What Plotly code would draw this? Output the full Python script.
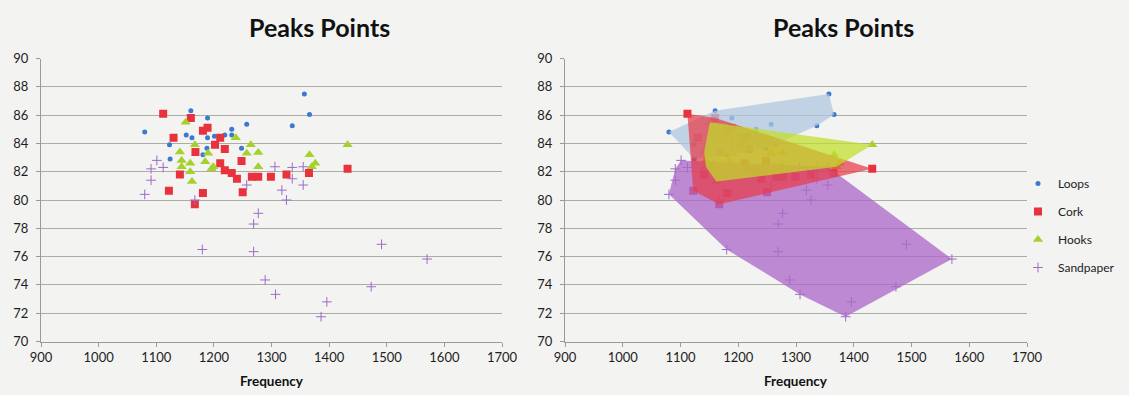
import plotly.graph_objects as go

# Peak positions (frequency, amplitude) per texture
loops_f = [1080, 1160, 1189, 1152, 1162, 1189, 1123, 1181, 1124, 1357, 1366, 1257,
           1336, 1231, 1231, 1219, 1201, 1248, 1188]
loops_a = [84.8, 86.3, 85.8, 84.6, 84.4, 84.4, 83.9, 83.2, 82.9, 87.5, 86.05, 85.35,
           85.25, 85.0, 84.6, 84.6, 84.5, 83.65, 83.65]

cork_f = [1112, 1160, 1130, 1181, 1168, 1141, 1122, 1181, 1189, 1211, 1202, 1219, 1211,
          1248, 1219, 1231, 1240, 1266, 1277, 1299, 1326, 1365, 1432, 1250, 1167]
cork_a = [86.1, 85.8, 84.4, 84.9, 83.4, 81.8, 80.65, 80.5, 85.1, 84.4, 83.9, 83.6, 82.6,
          82.75, 82.1, 81.9, 81.5, 81.65, 81.65, 81.65, 81.8, 81.9, 82.2, 80.55, 79.7]

hooks_f = [1151, 1167, 1141, 1190, 1162, 1238, 1264, 1257, 1277, 1432, 1366, 1376, 1370,
           1277, 1199, 1144, 1159, 1144, 1159, 1185, 1196]
hooks_a = [85.5, 83.9, 83.4, 83.3, 81.3, 84.4, 83.9, 83.3, 83.35, 83.9, 83.2, 82.6, 82.35,
           82.35, 82.35, 82.8, 82.6, 82.35, 82.0, 82.7, 82.2]

sand_f = [1101, 1091, 1112, 1091, 1080, 1167, 1306, 1336, 1355, 1336, 1257, 1355, 1318,
          1326, 1277, 1269, 1180, 1269, 1491, 1570, 1289, 1473, 1307, 1396, 1386]
sand_a = [82.8, 82.2, 82.3, 81.4, 80.4, 80.0, 82.35, 82.3, 82.35, 81.5, 81.06, 81.06, 80.7,
          80.0, 79.06, 78.3, 76.5, 76.35, 76.87, 75.83, 74.35, 73.87, 73.33, 72.8, 71.75]

x_ticks = [900, 1000, 1100, 1200, 1300, 1400, 1500, 1600, 1700]
y_ticks = [70, 72, 74, 76, 78, 80, 82, 84, 86, 88, 90]

series = [
    ("Loops", loops_f, loops_a,
     dict(symbol="circle", size=5, color="#3a7ad0"), "rgba(176,198,222,0.74)"),
    ("Cork", cork_f, cork_a,
     dict(symbol="square", size=8, color="#e8323e"), "rgba(232,60,72,0.72)"),
    ("Hooks", hooks_f, hooks_a,
     dict(symbol="triangle-up", size=9, color="#a6d12a"), "rgba(192,222,40,0.72)"),
    ("Sandpaper", sand_f, sand_a,
     dict(symbol="cross-thin-open", size=7, color="#9b6cc8",
          line=dict(width=1, color="#9b6cc8")), "rgba(172,104,200,0.76)"),
]
fill_order = ["Loops", "Sandpaper", "Cork", "Hooks"]


def hull(xs, ys):
    """Convex hull (monotone chain) of a point set, returned as closed x/y lists."""
    pts = sorted(set(zip(xs, ys)))
    sx = 1.0 / 800.0
    sy = 1.0 / 20.0

    def cross(o, a, b):
        return ((a[0] - o[0]) * sx) * ((b[1] - o[1]) * sy) - ((a[1] - o[1]) * sy) * ((b[0] - o[0]) * sx)

    lower, upper = [], []
    for p in pts:
        while len(lower) >= 2 and cross(lower[-2], lower[-1], p) <= 0:
            lower.pop()
        lower.append(p)
    for p in reversed(pts):
        while len(upper) >= 2 and cross(upper[-2], upper[-1], p) <= 0:
            upper.pop()
        upper.append(p)
    ring = lower[:-1] + upper[:-1]
    ring.append(ring[0])
    return [p[0] for p in ring], [p[1] for p in ring]


fig = go.Figure()

# Left panel: plain scatter
for name, fx, ay, mk, _ in series:
    fig.add_trace(go.Scatter(x=fx, y=ay, mode="markers", name=name, marker=mk,
                             showlegend=False, xaxis="x", yaxis="y"))

# Right panel: markers, then translucent hull regions laid over them
for name, fx, ay, mk, _ in series:
    fig.add_trace(go.Scatter(x=fx, y=ay, mode="markers", name=name, marker=mk,
                             legendgroup=name, showlegend=True, xaxis="x2", yaxis="y2"))
lookup = {s[0]: s for s in series}
for name in fill_order:
    _, fx, ay, _, fc = lookup[name]
    hx, hy = hull(fx, ay)
    fig.add_trace(go.Scatter(x=hx, y=hy, mode="lines", fill="toself", fillcolor=fc,
                             line=dict(width=0, color=fc), hoverinfo="skip",
                             showlegend=False, xaxis="x2", yaxis="y2"))

W, H = 1129, 395
grid = "#acaca6"
family = "Lato, Open Sans, sans-serif"
tickfont = dict(family=family, size=13, color="#1e1e1e")

xcommon = dict(range=[900, 1700], tickvals=x_ticks, showgrid=False, zeroline=False,
               showline=True, linecolor="#9a9a9a", linewidth=1, ticks="outside",
               ticklen=4, tickcolor="#9a9a9a", tickfont=tickfont, ticklabelstandoff=0,
               automargin=False, fixedrange=True)
ycommon = dict(range=[70, 90], tickvals=y_ticks, showgrid=True, gridcolor=grid,
               gridwidth=1, zeroline=False, showline=True, linecolor="#9a9a9a",
               linewidth=1, ticks="outside", ticklen=4, tickcolor="#9a9a9a",
               ticklabelstandoff=5, tickfont=tickfont, automargin=False, fixedrange=True)

top = 1 - 58.5 / H
bot = 1 - 341.5 / H

fig.update_layout(
    width=W, height=H,
    margin=dict(l=0, r=0, t=0, b=0, autoexpand=False),
    paper_bgcolor="#f3f3f2", plot_bgcolor="#f3f3f2",
    font=dict(family=family, color="#222222"),
    xaxis=dict(domain=[41 / W, 502 / W], anchor="y", **xcommon),
    yaxis=dict(domain=[bot, top], anchor="x", **ycommon),
    xaxis2=dict(domain=[565 / W, 1027 / W], anchor="y2", **xcommon),
    yaxis2=dict(domain=[bot, top], anchor="x2", **ycommon),
    legend=dict(x=(W - 9) / W, y=1 - 169 / H, xanchor="right", yanchor="top",
                bgcolor="rgba(0,0,0,0)", itemwidth=30, tracegroupgap=9,
                font=dict(family=family, size=12, color="#222222")),
    showlegend=True,
)

for cx in (319, 843):
    fig.add_annotation(text="<b>Peaks Points</b>", x=cx / W, y=1 - 27 / H,
                       xref="paper", yref="paper", xanchor="center", yanchor="middle",
                       showarrow=False, font=dict(family=family, size=25, color="#111111"))
for cx in (271.5, 796):
    fig.add_annotation(text="<b>Frequency</b>", x=cx / W, y=1 - 381 / H,
                       xref="paper", yref="paper", xanchor="center", yanchor="middle",
                       showarrow=False, font=dict(family=family, size=13.5, color="#111111"))

fig.write_html("out.html")
